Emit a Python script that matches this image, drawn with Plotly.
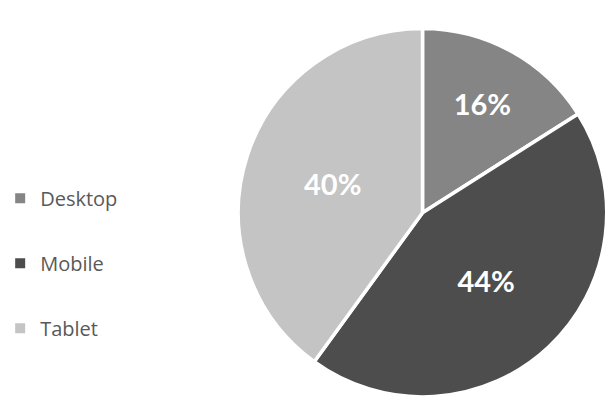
import plotly.graph_objects as go

categories = ["Desktop", "Mobile", "Tablet"]
shares = [16, 44, 40]
colors = ["#858585", "#4d4d4d", "#c4c4c4"]

fig = go.Figure()
fig.add_trace(go.Pie(
    labels=categories, values=shares, sort=False, direction="clockwise",
    rotation=0, showlegend=False,
    marker=dict(colors=colors, line=dict(color="white", width=3.5)),
    textinfo="percent", textposition="inside", insidetextorientation="horizontal",
    textfont=dict(family="Lato", size=29, color="white", weight="bold"),
    domain=dict(x=[0.388, 0.993], y=[0.045, 0.935]),
    hoverinfo="label+percent",
))
for name, col in zip(categories, colors):
    fig.add_trace(go.Scatter(
        x=[None], y=[None], mode="markers", name=name, legendgroup=name,
        marker=dict(symbol="square", size=10, color=col),
    ))

fig.update_layout(
    width=611, height=417, margin=dict(l=0, r=0, t=0, b=0),
    paper_bgcolor="white", plot_bgcolor="white",
    xaxis=dict(visible=False), yaxis=dict(visible=False),
    legend=dict(x=-0.003, y=0.369, xanchor="left", yanchor="middle",
                tracegroupgap=36, font=dict(family="Open Sans", size=20, color="#595959"),
                itemwidth=30),
    font=dict(family="Open Sans"),
)
fig.write_html("out.html")
